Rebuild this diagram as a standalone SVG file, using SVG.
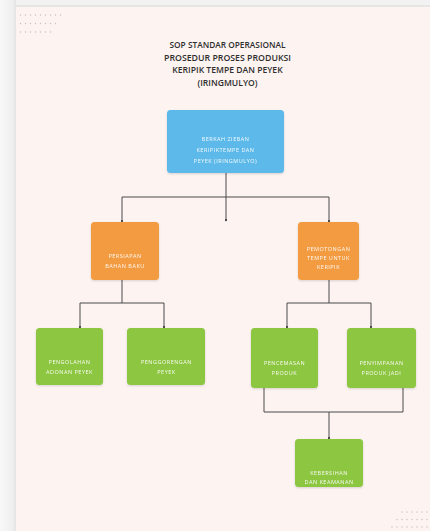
<svg xmlns="http://www.w3.org/2000/svg" width="430" height="531" viewBox="0 0 430 531">
<defs>
<linearGradient id="edge" x1="0" y1="0" x2="1" y2="0">
<stop offset="0" stop-color="#f8f8f8"/>
<stop offset="0.75" stop-color="#f0f0f0"/>
<stop offset="1" stop-color="#e4e4e4"/>
</linearGradient>
<filter id="sh" x="-10%" y="-10%" width="120%" height="130%">
<feDropShadow dx="0" dy="1" stdDeviation="0.8" flood-color="#000" flood-opacity="0.15"/>
</filter>
<marker id="dot" viewBox="0 0 4 4" refX="2" refY="2" markerWidth="3" markerHeight="3">
<circle cx="2" cy="2" r="1.5" fill="#444"/>
</marker>
</defs>
<style>
.title{font-family:"Open Sans","Liberation Sans",sans-serif;font-weight:600;font-size:8.6px;fill:#2e2e2e;text-anchor:middle}
.lbl{font-family:"Open Sans","Liberation Sans",sans-serif;font-size:5.5px;fill:#fff;text-anchor:middle;letter-spacing:0.5px;opacity:0.92}
.box{filter:url(#sh)}
.blue{fill:#5cb9e9}
.orange{fill:#f39b3f}
.green{fill:#8dc63f}
.conn{fill:none;stroke:#4a4a4a;stroke-width:1}
.dots circle{fill:#c4c0bf}
</style>
<rect width="430" height="531" fill="#f2f2f2"/>
<rect x="0" y="0" width="16" height="531" fill="url(#edge)"/>
<rect x="16" y="5" width="414" height="2" fill="#e6e6e6"/>
<rect x="16" y="7" width="414" height="524" fill="#fdf4f2"/>

<g class="dots">
<circle cx="20.5" cy="15" r="0.7"/><circle cx="25.5" cy="15" r="0.7"/><circle cx="30.5" cy="15" r="0.7"/><circle cx="35.5" cy="15" r="0.7"/><circle cx="40.5" cy="15" r="0.7"/><circle cx="45.5" cy="15" r="0.7"/><circle cx="50.5" cy="15" r="0.7"/><circle cx="55.5" cy="15" r="0.7"/><circle cx="60.5" cy="15" r="0.7"/>
<circle cx="20.5" cy="23.5" r="0.7"/><circle cx="25.5" cy="23.5" r="0.7"/><circle cx="30.5" cy="23.5" r="0.7"/><circle cx="35.5" cy="23.5" r="0.7"/><circle cx="40.5" cy="23.5" r="0.7"/><circle cx="45.5" cy="23.5" r="0.7"/><circle cx="50.5" cy="23.5" r="0.7"/><circle cx="55.5" cy="23.5" r="0.7"/>
<circle cx="20.5" cy="32" r="0.7"/><circle cx="25.5" cy="32" r="0.7"/><circle cx="30.5" cy="32" r="0.7"/><circle cx="35.5" cy="32" r="0.7"/><circle cx="40.5" cy="32" r="0.7"/><circle cx="45.5" cy="32" r="0.7"/><circle cx="50.5" cy="32" r="0.7"/>
<circle cx="402" cy="512" r="0.7"/><circle cx="407" cy="512" r="0.7"/><circle cx="412" cy="512" r="0.7"/><circle cx="417" cy="512" r="0.7"/><circle cx="422" cy="512" r="0.7"/><circle cx="427" cy="512" r="0.7"/>
<circle cx="397" cy="519.5" r="0.7"/><circle cx="402" cy="519.5" r="0.7"/><circle cx="407" cy="519.5" r="0.7"/><circle cx="412" cy="519.5" r="0.7"/><circle cx="417" cy="519.5" r="0.7"/><circle cx="422" cy="519.5" r="0.7"/><circle cx="427" cy="519.5" r="0.7"/>
<circle cx="392" cy="527" r="0.7"/><circle cx="397" cy="527" r="0.7"/><circle cx="402" cy="527" r="0.7"/><circle cx="407" cy="527" r="0.7"/><circle cx="412" cy="527" r="0.7"/><circle cx="417" cy="527" r="0.7"/><circle cx="422" cy="527" r="0.7"/><circle cx="427" cy="527" r="0.7"/>
</g>

<g id="title">
<text class="title" x="227.5" y="48" textLength="116" lengthAdjust="spacingAndGlyphs">SOP STANDAR OPERASIONAL</text>
<text class="title" x="227.5" y="60.5" textLength="127" lengthAdjust="spacingAndGlyphs">PROSEDUR PROSES PRODUKSI</text>
<text class="title" x="227.5" y="73">KERIPIK TEMPE DAN PEYEK</text>
<text class="title" x="227.5" y="85.5">(IRINGMULYO)</text>
</g>

<g id="connectors">
<path class="conn" d="M226 173 V220" marker-end="url(#dot)"/>
<path class="conn" d="M122 221 V197 H329 V221" marker-start="url(#dot)" marker-end="url(#dot)"/>
<path class="conn" d="M122 280 V303"/>
<path class="conn" d="M80 327 V303 H164 V327" marker-start="url(#dot)" marker-end="url(#dot)"/>
<path class="conn" d="M329 280 V303"/>
<path class="conn" d="M287 327 V303 H371 V327" marker-start="url(#dot)" marker-end="url(#dot)"/>
<path class="conn" d="M264 388 V412 H403 V388"/>
<path class="conn" d="M329 412 V438" marker-end="url(#dot)"/>
</g>

<g id="n-berkah">
<rect class="box blue" x="167" y="110" width="117" height="63" rx="3.5"/>
<text class="lbl" x="225.5" y="141">BERKAH ZIEBAN</text>
<text class="lbl" x="225.5" y="152">KERIPIKTEMPE DAN</text>
<text class="lbl" x="225.5" y="163">PEYEK (IRINGMULYO)</text>
</g>

<g id="n-persiapan">
<rect class="box orange" x="91" y="222" width="68" height="58" rx="3.5"/>
<text class="lbl" x="125" y="258">PERSIAPAN</text>
<text class="lbl" x="125" y="267.5">BAHAN BAKU</text>
</g>

<g id="n-pemotongan">
<rect class="box orange" x="298" y="222" width="61" height="58" rx="3.5"/>
<text class="lbl" x="328.5" y="251">PEMOTONGAN</text>
<text class="lbl" x="328.5" y="260">TEMPE UNTUK</text>
<text class="lbl" x="328.5" y="269">KERIPIK</text>
</g>

<g id="n-pengolahan">
<rect class="box green" x="36" y="328" width="67" height="57" rx="3.5"/>
<text class="lbl" x="69.5" y="364">PENGOLAHAN</text>
<text class="lbl" x="69.5" y="374">ADONAN PEYEK</text>
</g>

<g id="n-penggorengan">
<rect class="box green" x="127" y="328" width="78" height="57" rx="3.5"/>
<text class="lbl" x="166.5" y="364">PENGGORENGAN</text>
<text class="lbl" x="166.5" y="374">PEYEK</text>
</g>

<g id="n-pencemasan">
<rect class="box green" x="251" y="328" width="67" height="60" rx="3.5"/>
<text class="lbl" x="284.5" y="365">PENCEMASAN</text>
<text class="lbl" x="284.5" y="375">PRODUK</text>
</g>

<g id="n-penyimpanan">
<rect class="box green" x="347" y="328" width="69" height="60" rx="3.5"/>
<text class="lbl" x="381.5" y="365">PENYIMPANAN</text>
<text class="lbl" x="381.5" y="375">PRODUK JADI</text>
</g>

<g id="n-kebersihan">
<rect class="box green" x="295" y="439" width="68" height="48" rx="3.5"/>
<text class="lbl" x="329" y="474.5">KEBERSIHAN</text>
<text class="lbl" x="329" y="484">DAN KEAMANAN</text>
</g>
</svg>
